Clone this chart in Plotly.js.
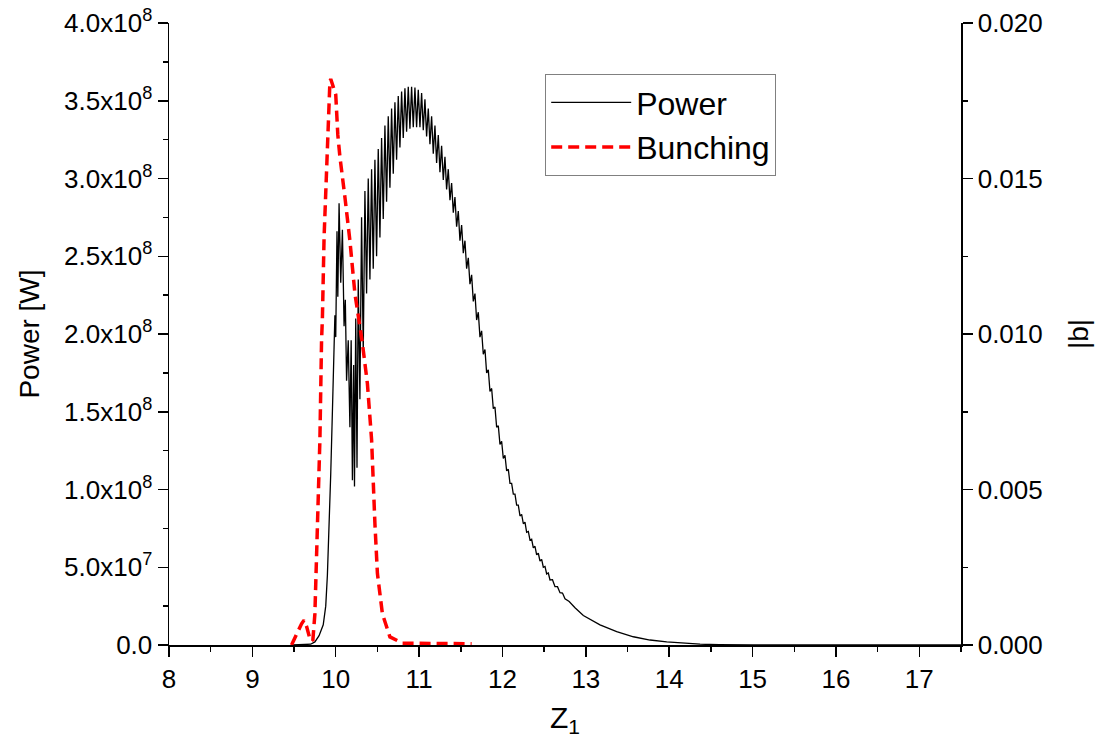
<!DOCTYPE html>
<html>
<head>
<meta charset="utf-8">
<script src="https://cdn.plot.ly/plotly-3.0.1.min.js"></script>
<style>html,body{margin:0;padding:0;background:#fff;}#chart{width:1102px;height:749px;}</style>
</head>
<body>
<div id="chart"></div>
<script>
// Power trace: z position and power in units of 1e8 W
const powerZ = [
  9.48, 9.60, 9.70, 9.75, 9.80, 9.85, 9.88, 9.90, 9.92, 9.94, 9.96, 9.98, 9.99,
  10.00, 10.015, 10.025, 10.04, 10.06, 10.08, 10.10, 10.115, 10.13, 10.15, 10.17, 10.185,
  10.20, 10.215, 10.225, 10.24, 10.255, 10.27,
  10.29, 10.31, 10.33, 10.35, 10.37, 10.39, 10.41, 10.43, 10.45, 10.47, 10.49,
  10.51, 10.53, 10.55, 10.57, 10.59, 10.61, 10.63, 10.65, 10.67, 10.69,
  10.71, 10.73, 10.75, 10.77, 10.79, 10.81, 10.83, 10.85, 10.87, 10.89,
  10.91, 10.93, 10.95, 10.97, 10.99, 11.01, 11.03, 11.05, 11.07, 11.09,
  11.11, 11.13, 11.15, 11.17, 11.19, 11.21, 11.23, 11.25, 11.27, 11.29,
  11.31, 11.33, 11.35, 11.37, 11.39, 11.41, 11.43, 11.45, 11.47, 11.49,
  11.51, 11.53, 11.55, 11.57, 11.59, 11.61, 11.63, 11.65, 11.67, 11.69,
  11.71, 11.73, 11.75, 11.77, 11.79, 11.81, 11.83, 11.85, 11.87, 11.89,
  11.91, 11.93, 11.95, 11.97, 11.99, 12.01, 12.03, 12.05, 12.07, 12.09,
  12.11, 12.13, 12.15, 12.17, 12.19, 12.21, 12.23, 12.25, 12.27, 12.29,
  12.31, 12.33, 12.35, 12.37, 12.39, 12.41, 12.43, 12.45, 12.47, 12.49,
  12.51, 12.53, 12.55, 12.57, 12.60, 12.63, 12.66, 12.69, 12.72, 12.75,
  12.80, 12.87, 12.97, 13.17, 13.37, 13.57,
  13.77, 13.97, 14.17, 14.37, 14.60, 15.00, 17.50
];
const powerW = [
  0.0, 0.002, 0.005, 0.02, 0.06, 0.13, 0.25, 0.45, 0.72, 1.10, 1.50, 2.05, 2.12,
  1.98, 2.66, 2.24, 2.84, 2.33, 2.67, 2.05, 2.22, 1.70, 1.96, 1.40, 1.96,
  1.06, 1.80, 1.02, 2.10, 1.14, 2.35,
  1.58, 2.75, 1.88, 2.92, 2.26, 3.00, 2.35, 3.06, 2.42, 3.12, 2.50,
  3.19, 2.62, 3.26, 2.74, 3.34, 2.85, 3.40, 2.94, 3.45, 3.03,
  3.49, 3.12, 3.53, 3.20, 3.56, 3.26, 3.58, 3.30, 3.59, 3.32,
  3.59, 3.33, 3.585, 3.33, 3.57, 3.33, 3.55, 3.31, 3.51, 3.27,
  3.45, 3.22, 3.40, 3.16, 3.34, 3.10, 3.28, 3.04, 3.21, 2.99,
  3.14, 2.93, 3.06, 2.86, 2.97, 2.78, 2.88, 2.69, 2.79, 2.60,
  2.70, 2.52, 2.60, 2.42, 2.49, 2.32, 2.38, 2.21, 2.26, 2.09,
  2.14, 1.98, 2.02, 1.87, 1.90, 1.75, 1.77, 1.63, 1.65, 1.52,
  1.53, 1.40, 1.41, 1.29, 1.31, 1.20, 1.22, 1.12, 1.13, 1.04,
  1.04, 0.97, 0.97, 0.90, 0.90, 0.83, 0.84, 0.78, 0.79, 0.725,
  0.73, 0.675, 0.68, 0.625, 0.635, 0.58, 0.59, 0.54, 0.55, 0.50,
  0.505, 0.457, 0.463, 0.418, 0.42, 0.375, 0.375, 0.336, 0.334, 0.297,
  0.28, 0.24, 0.19, 0.13, 0.086, 0.053,
  0.032, 0.020, 0.011, 0.005, 0.002, 0.0, 0.0
];

// Bunching trace: z position and |b|
const bunchZ = [
  9.47, 9.50, 9.54, 9.59, 9.62, 9.65, 9.69, 9.725, 9.75, 9.78, 9.81, 9.83, 9.84,
  9.86, 9.89, 9.905, 9.93, 9.94, 10.00, 10.025, 10.05, 10.11, 10.17, 10.23,
  10.32, 10.38, 10.43, 10.47, 10.50, 10.56, 10.65, 10.80, 11.00, 11.30, 11.63
];
const bunchB = [
  0.0, 0.0002, 0.0004, 0.00068, 0.0008, 0.0006, 0.0002, 0.00013, 0.0010, 0.0038, 0.0066, 0.0098, 0.0105,
  0.0131, 0.0153, 0.0168, 0.0181, 0.0182, 0.0177, 0.0164, 0.0157, 0.0144, 0.0130, 0.0113,
  0.0097, 0.0084, 0.0066, 0.0039, 0.0023, 0.0010, 0.00026, 0.00006, 0.00005, 0.00004, 0.00004
];

// Axis ticks
const xTickVals = [8, 9, 10, 11, 12, 13, 14, 15, 16, 17];
const yTickVals = [0, 0.5, 1.0, 1.5, 2.0, 2.5, 3.0, 3.5, 4.0];
const yTickText = ['0.0', '5.0x10<sup>7</sup>', '1.0x10<sup>8</sup>', '1.5x10<sup>8</sup>',
  '2.0x10<sup>8</sup>', '2.5x10<sup>8</sup>', '3.0x10<sup>8</sup>', '3.5x10<sup>8</sup>', '4.0x10<sup>8</sup>'];
const y2TickVals = [0, 0.005, 0.010, 0.015, 0.020];
const y2TickText = ['0.000', '0.005', '0.010', '0.015', '0.020'];

const FONT = 'Arial, "Liberation Sans", sans-serif';

const traces = [
  {
    x: powerZ, y: powerW, name: 'Power', type: 'scatter', mode: 'lines',
    line: {color: '#000000', width: 1.3}, xaxis: 'x', yaxis: 'y'
  },
  {
    x: bunchZ, y: bunchB, name: 'Bunching', type: 'scatter', mode: 'lines',
    line: {color: '#ff0000', width: 3.5, dash: '11px,6px'}, xaxis: 'x', yaxis: 'y2'
  }
];

const axisCommon = {
  showline: true, linecolor: '#000', linewidth: 1.5, mirror: false,
  showgrid: false, zeroline: false,
  ticks: 'outside', ticklen: 10, tickwidth: 1.5, tickcolor: '#000',
  tickfont: {family: FONT, size: 26, color: '#000'}
};

const layout = {
  width: 1102, height: 749,
  margin: {l: 169, r: 141, t: 23, b: 104},
  paper_bgcolor: '#fff', plot_bgcolor: '#fff',
  showlegend: true,
  legend: {
    x: 0.475, y: 0.918, xanchor: 'left', yanchor: 'top',
    bordercolor: '#808080', borderwidth: 1, bgcolor: 'rgba(255,255,255,1)',
    font: {family: FONT, size: 32, color: '#000'},
    tracegroupgap: 0, itemwidth: 80
  },
  xaxis: Object.assign({}, axisCommon, {
    range: [8, 17.5], tickvals: xTickVals,
    minor: {dtick: 0.5, ticklen: 5, tickwidth: 1.5, tickcolor: '#000', ticks: 'outside'},
    title: {text: 'Z<sub>1</sub>', font: {family: FONT, size: 30, color: '#000'}, standoff: 14}
  }),
  yaxis: Object.assign({}, axisCommon, {
    range: [0, 4], tickvals: yTickVals, ticktext: yTickText,
    minor: {dtick: 0.25, ticklen: 5, tickwidth: 1.5, tickcolor: '#000', ticks: 'outside'},
    title: {text: 'Power [W]', font: {family: FONT, size: 28, color: '#000'}, standoff: 16}
  }),
  yaxis2: Object.assign({}, axisCommon, {
    range: [0, 0.02], overlaying: 'y', side: 'right', anchor: 'x',
    tickvals: y2TickVals, ticktext: y2TickText,
    minor: {dtick: 0.0025, ticklen: 5, tickwidth: 1.5, tickcolor: '#000', ticks: 'outside'},
    title: {text: '|b|', font: {family: FONT, size: 28, color: '#000'}, standoff: 26}
  })
};

Plotly.newPlot('chart', traces, layout, {displayModeBar: false, staticPlot: true});
</script>
</body>
</html>
